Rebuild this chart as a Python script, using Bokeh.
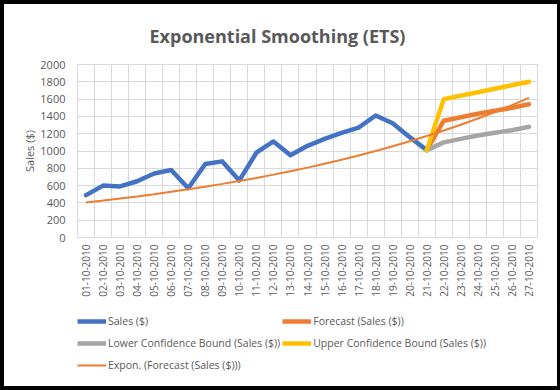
from bokeh.plotting import figure
from bokeh.layouts import column
from bokeh.models import Range1d, FixedTicker, Legend, LegendItem
from bokeh.embed import file_html
from bokeh.resources import INLINE
from math import pi

dates = ["01-10-2010", "02-10-2010", "03-10-2010", "04-10-2010", "05-10-2010",
         "06-10-2010", "07-10-2010", "08-10-2010", "09-10-2010", "10-10-2010",
         "11-10-2010", "12-10-2010", "13-10-2010", "14-10-2010", "15-10-2010",
         "16-10-2010", "17-10-2010", "18-10-2010", "19-10-2010", "20-10-2010",
         "21-10-2010", "22-10-2010", "23-10-2010", "24-10-2010", "25-10-2010",
         "26-10-2010", "27-10-2010"]
sales = [490, 600, 590, 650, 740, 780, 570, 850, 880, 660, 980, 1110, 950,
         1060, 1140, 1210, 1270, 1410, 1320, 1160, 1010]
forecast = [1010, 1350, 1390, 1430, 1465, 1500, 1540]
lower = [1010, 1100, 1140, 1180, 1210, 1240, 1280]
upper = [1010, 1600, 1640, 1680, 1720, 1760, 1800]
trend = [405, 427, 450, 475, 501, 528, 557, 588, 620, 654, 689, 727, 767, 808,
         853, 899, 948, 1000, 1055, 1112, 1173, 1237, 1304, 1376, 1451, 1530, 1614]
y_ticks = [0, 200, 400, 600, 800, 1000, 1200, 1400, 1600, 1800, 2000]

GRAY_TXT = "#595959"
GRID = "#d9d9d9"
FONT = "Open Sans"
C_SALES, C_FC, C_LOW, C_UP = "#4472C4", "#ED7D31", "#A5A5A5", "#FFC000"

n = len(dates)
pos = [i + 0.5 for i in range(n)]
sales_x = pos[:len(sales)]
fc_x = pos[len(sales) - 1:]

# ---- main chart ----
fig = figure(width=553, height=305, x_range=Range1d(0, n), y_range=Range1d(0, 2000),
             output_backend="svg", toolbar_location=None,
             min_border_left=73, min_border_right=20, min_border_top=55, min_border_bottom=72)
fig.outline_line_color = GRID
fig.background_fill_color = "white"
fig.border_fill_color = "white"

fig.title.text = "Exponential Smoothing (ETS)"
fig.title.text_font = FONT
fig.title.text_font_size = "18px"
fig.title.text_font_style = "bold"
fig.title.text_color = GRAY_TXT
fig.title.align = "left"
fig.title.offset = 72
fig.title.standoff = 34

xa = fig.xaxis[0]
xa.ticker = FixedTicker(ticks=pos)
xa.major_label_overrides = {x: d for x, d in zip(pos, dates)}
xa.major_label_orientation = pi / 2
xa.axis_line_color = None
xa.major_tick_line_color = None
xa.minor_tick_line_color = None
xa.major_tick_out = 0
xa.major_label_standoff = 7
xa.major_label_text_font = FONT
xa.major_label_text_font_size = "10px"
xa.major_label_text_color = GRAY_TXT

ya = fig.yaxis[0]
ya.ticker = FixedTicker(ticks=y_ticks)
ya.axis_line_color = None
ya.major_tick_line_color = None
ya.minor_tick_line_color = None
ya.major_tick_out = 0
ya.major_label_standoff = 12
ya.major_label_text_font = FONT
ya.major_label_text_font_size = "11px"
ya.major_label_text_color = GRAY_TXT
ya.axis_label = "Sales ($)"
ya.axis_label_text_font = FONT
ya.axis_label_text_font_size = "11px"
ya.axis_label_text_font_style = "normal"
ya.axis_label_text_color = GRAY_TXT
ya.axis_label_standoff = 0

fig.xgrid.ticker = FixedTicker(ticks=list(range(n + 1)))
fig.xgrid.grid_line_color = GRID
fig.ygrid.ticker = FixedTicker(ticks=y_ticks)
fig.ygrid.grid_line_color = GRID

fig.line(sales_x, sales, line_color=C_SALES, line_width=4.5, line_join="round", line_cap="round")
fig.line(fc_x, forecast, line_color=C_FC, line_width=4.5, line_join="round", line_cap="round")
fig.line(fc_x, lower, line_color=C_LOW, line_width=4.5, line_join="round", line_cap="round")
fig.line(fc_x, upper, line_color=C_UP, line_width=4.5, line_join="round", line_cap="round")
fig.line(pos, trend, line_color=C_FC, line_width=2)

# ---- legend strip ----
leg = figure(width=553, height=77, x_range=Range1d(0, 1), y_range=Range1d(0, 1),
             output_backend="svg", toolbar_location=None,
             x_axis_location=None, y_axis_location=None,
             min_border_left=72, min_border_right=0, min_border_top=2, min_border_bottom=0)
leg.outline_line_color = None
leg.grid.visible = False
leg.background_fill_color = "white"
leg.border_fill_color = "white"

# legend swatch renderers: one off-screen point each so the legend can draw them
off = [5]
l_sales = leg.line(x=off, y=off, line_color=C_SALES, line_width=4.5)
l_fc = leg.line(x=off, y=off, line_color=C_FC, line_width=4.5)
l_low = leg.line(x=off, y=off, line_color=C_LOW, line_width=4.5)
l_up = leg.line(x=off, y=off, line_color=C_UP, line_width=4.5)
l_tr = leg.line(x=off, y=off, line_color=C_FC, line_width=2)

legend = Legend(items=[LegendItem(label="Sales ($)", renderers=[l_sales]),
                       LegendItem(label="Lower Confidence Bound (Sales ($))", renderers=[l_low]),
                       LegendItem(label="Expon. (Forecast (Sales ($)))", renderers=[l_tr]),
                       LegendItem(label="Forecast (Sales ($))", renderers=[l_fc]),
                       LegendItem(label="Upper Confidence Bound (Sales ($))", renderers=[l_up])],
                location="top_left", orientation="vertical", nrows=3, ncols=2,
                glyph_width=29, glyph_height=20, label_height=20, label_standoff=2,
                spacing=2, padding=0, margin=0,
                border_line_color=None, background_fill_alpha=0,
                label_text_font=FONT, label_text_font_size="10.5px",
                label_text_color=GRAY_TXT)
leg.add_layout(legend)

p = column(fig, leg, spacing=0)
p.styles = {"position": "relative", "left": "4px", "top": "4px",
            "outline": "1px solid #d9d9d9", "outline-offset": "-2px",
            "box-shadow": "0 0 0 12px #000000"}

open("out.html", "w").write(file_html(p, INLINE))
